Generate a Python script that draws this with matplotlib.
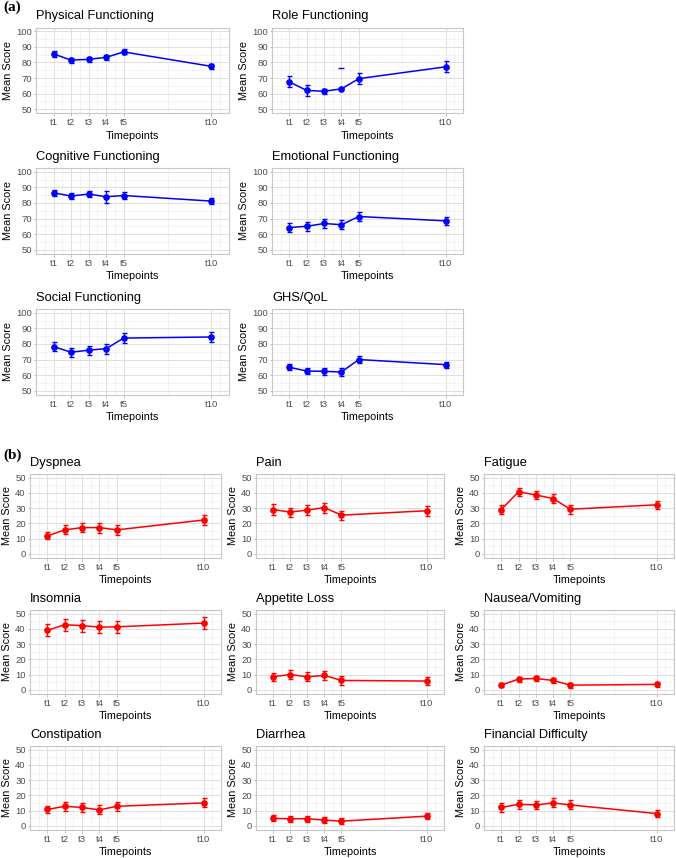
import matplotlib
matplotlib.use('Agg')
import matplotlib.pyplot as plt

plt.rcParams['font.family'] = ['Liberation Sans', 'DejaVu Sans']

W, H = 676, 858

# ---------------- data ----------------
timepoints = [1, 2, 3, 4, 5, 10]
tick_labels = ['t1', 't2', 't3', 't4', 't5', 't10']

# (a) functioning scales
func_titles = ['Physical Functioning', 'Role Functioning', 'Cognitive Functioning',
               'Emotional Functioning', 'Social Functioning', 'GHS/QoL']
physical_mean = [85.5, 81.5, 82.0, 83.3, 86.8, 77.5]
physical_err = [1.8, 1.6, 1.6, 1.6, 1.6, 1.6]
role_mean = [67.5, 62.0, 61.5, 63.0, 69.6, 77.2]
role_err = [3.5, 3.8, 1.6, 0.0, 3.6, 3.5]
role_stray_cap = [76.5]   # isolated cap drawn above t4 in the original
cognitive_mean = [86.5, 84.5, 85.7, 84.0, 84.8, 81.2]
cognitive_err = [2.0, 2.2, 1.8, 4.0, 2.2, 2.0]
emotional_mean = [64.2, 65.0, 66.8, 66.0, 71.3, 68.5]
emotional_err = [3.0, 2.8, 2.8, 3.0, 2.8, 2.5]
social_mean = [78.3, 74.7, 76.0, 77.0, 83.8, 84.5]
social_err = [3.0, 3.0, 3.0, 3.3, 3.0, 3.0]
ghs_mean = [65.0, 62.6, 62.4, 62.0, 70.0, 66.7]
ghs_err = [2.0, 2.2, 2.2, 2.5, 2.5, 2.0]

# (b) symptom scales
sym_titles = ['Dyspnea', 'Pain', 'Fatigue', 'Insomnia', 'Appetite Loss',
              'Nausea/Vomiting', 'Constipation', 'Diarrhea', 'Financial Difficulty']
dyspnea_mean = [11.7, 15.7, 17.2, 17.2, 15.7, 22.2]
dyspnea_err = [2.3, 3.0, 3.0, 3.3, 3.3, 3.0]
pain_mean = [29.1, 27.4, 28.7, 30.4, 25.4, 28.3]
pain_err = [3.5, 3.0, 3.3, 3.3, 3.0, 3.3]
fatigue_mean = [29.1, 40.8, 38.7, 36.3, 29.3, 32.2]
fatigue_err = [3.0, 2.8, 2.8, 3.0, 3.0, 2.8]
insomnia_mean = [39.1, 42.8, 42.2, 41.2, 41.4, 43.9]
insomnia_err = [4.0, 4.0, 4.0, 4.0, 4.0, 4.0]
appetite_mean = [8.5, 10.0, 8.5, 9.4, 6.1, 5.7]
appetite_err = [2.5, 3.0, 3.0, 3.0, 2.7, 2.7]
nausea_mean = [3.0, 7.0, 7.4, 6.1, 3.0, 3.5]
nausea_err = [1.2, 1.6, 1.6, 1.6, 1.6, 1.6]
constipation_mean = [10.7, 12.8, 12.0, 10.4, 12.8, 15.0]
constipation_err = [2.5, 3.0, 3.0, 3.0, 3.0, 3.0]
diarrhea_mean = [4.8, 4.6, 4.6, 3.7, 3.0, 6.3]
diarrhea_err = [2.0, 2.0, 2.0, 2.0, 2.2, 2.0]
financial_mean = [12.0, 14.1, 13.7, 15.0, 13.7, 8.0]
financial_err = [3.0, 2.8, 2.8, 3.0, 3.0, 2.3]

func_means = [physical_mean, role_mean, cognitive_mean, emotional_mean, social_mean, ghs_mean]
func_errs = [physical_err, role_err, cognitive_err, emotional_err, social_err, ghs_err]
sym_means = [dyspnea_mean, pain_mean, fatigue_mean, insomnia_mean, appetite_mean,
             nausea_mean, constipation_mean, diarrhea_mean, financial_mean]
sym_errs = [dyspnea_err, pain_err, fatigue_err, insomnia_err, appetite_err,
            nausea_err, constipation_err, diarrhea_err, financial_err]

# ---------------- drawing ----------------
fig = plt.figure(figsize=(W / 100, H / 100), dpi=100)
fig.patch.set_facecolor('white')


def px_axes(l, t, r, b):
    return fig.add_axes([l / W, 1 - b / H, (r - l) / W, (b - t) / H])


def style_axes(ax, ymin, ymax, title):
    ax.set_xlim(0, 11)
    ax.set_ylim(ymin - 2.5, ymax + 2.5)
    ax.set_xticks(timepoints)
    ax.set_xticklabels(tick_labels)
    ax.set_yticks(list(range(ymin, ymax + 1, 10)))
    ax.set_xticks([0.5, 1.5, 2.5, 3.5, 4.5, 7.5, 10.5], minor=True)
    ax.set_yticks(list(range(ymin + 5, ymax, 10)), minor=True)
    ax.grid(True, which='major', color='#DEDEDE', linewidth=0.7)
    ax.grid(True, which='minor', color='#EFEFEF', linewidth=0.5)
    ax.set_axisbelow(True)
    for s in ax.spines.values():
        s.set_color('#C8C8C8')
        s.set_linewidth(0.8)
    ax.tick_params(which='major', length=1.8, width=0.6, color='#B3B3B3',
                   labelsize=6.8, labelcolor='#4D4D4D', pad=1.3)
    ax.tick_params(axis='x', which='major', pad=2.0)
    ax.tick_params(which='minor', length=0)
    ax.set_xlabel('Timepoints', fontsize=7.8, labelpad=2.5)
    ax.set_ylabel('Mean Score', fontsize=7.8, labelpad=2)
    ax.set_title(title, loc='left', fontsize=9.3, pad=6)


def draw_series(ax, mean, err, color):
    ax.errorbar(timepoints, mean, yerr=err, color=color, linewidth=1.1,
                marker='o', markersize=3.8, capsize=1.8, elinewidth=1.0,
                capthick=1.0, zorder=3)


# (a) layout
a_cols = [(36, 229), (272, 463)]
a_rows = [27.5, 168, 309]
a_h = 85.5
for i, title in enumerate(func_titles):
    r, c = divmod(i, 2)
    l, rr = a_cols[c]
    t = a_rows[r]
    ax = px_axes(l, t, rr, t + a_h)
    draw_series(ax, func_means[i], func_errs[i], '#0000FF')
    if title == 'Role Functioning':
        ax.plot([timepoints[3]], role_stray_cap, marker='_', color='#0000FF',
                markersize=4, markeredgewidth=1.0, linestyle='none', zorder=3)
    style_axes(ax, 50, 100, title)

# (b) layout
b_cols = [(30, 221), (256, 444), (484, 674)]
b_rows = [474, 610, 746]
b_h = 83.5
for i, title in enumerate(sym_titles):
    r, c = divmod(i, 3)
    l, rr = b_cols[c]
    t = b_rows[r]
    ax = px_axes(l, t, rr, t + b_h)
    draw_series(ax, sym_means[i], sym_errs[i], '#FF0000')
    style_axes(ax, 0, 50, title)

fig.text(3 / W, 1 - 7.5 / H, '(a)', fontsize=11, fontweight='bold',
         family=['Liberation Serif', 'DejaVu Serif'], va='center', ha='left')
fig.text(3 / W, 1 - 455 / H, '(b)', fontsize=11, fontweight='bold',
         family=['Liberation Serif', 'DejaVu Serif'], va='center', ha='left')

fig.savefig('out.png', dpi=100, facecolor='white')
